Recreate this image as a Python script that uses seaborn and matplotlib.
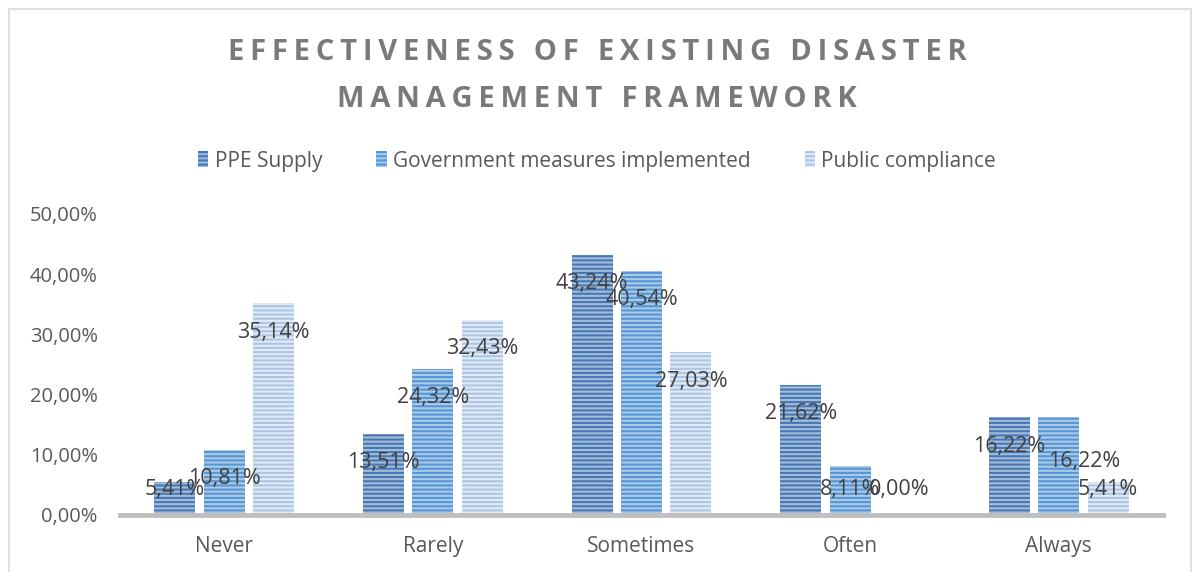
import matplotlib
matplotlib.use("Agg")
import matplotlib.pyplot as plt
from matplotlib.patches import Rectangle
import seaborn as sns
import pandas as pd

# Survey responses (% of respondents)
categories = ["Never", "Rarely", "Sometimes", "Often", "Always"]
series = ["PPE Supply", "Government measures implemented", "Public compliance"]
ppe_supply = [5.41, 13.51, 43.24, 21.62, 16.22]
gov_measures = [10.81, 24.32, 40.54, 8.11, 16.22]
public_compliance = [35.14, 32.43, 27.03, 0.00, 5.41]
y_ticks = [0, 10, 20, 30, 40, 50]

title_lines = ["EFFECTIVENESS OF EXISTING DISASTER", "MANAGEMENT FRAMEWORK"]

face_colors = ["#9dbbe0", "#a3cbef", "#e0eaf6"]
hatch_colors = ["#4678b6", "#5596d6", "#aac6e6"]

sns.set_theme(style="white")
plt.rcParams["font.family"] = ["Open Sans", "DejaVu Sans"]
plt.rcParams["hatch.linewidth"] = 1.5

df = pd.DataFrame({
    "category": categories * 3,
    "series": [s for s in series for _ in categories],
    "value": ppe_supply + gov_measures + public_compliance,
})

fig = plt.figure(figsize=(11.94, 5.72), dpi=100)
ax = fig.add_axes([0.1005, 0.0997, 0.8735, 0.5263])

sns.barplot(data=df, x="category", y="value", hue="series", order=categories,
            hue_order=series, palette=face_colors, width=0.71, gap=0.17,
            errorbar=None, ax=ax, legend=False)

for container, hc in zip(ax.containers, hatch_colors):
    for bar in container:
        bar.set_hatch("----")
        bar.set_edgecolor(hc)
        bar.set_linewidth(0)

# value labels inside the bar tops, kept above the baseline
extra_offset = {(1, 4): (26, -15)}
for si, container in enumerate(ax.containers):
    for ci, bar in enumerate(container):
        v = bar.get_height()
        y = max(v - 4.8, 4.2)
        dx, dy = extra_offset.get((si, ci), (0, 0))
        ax.annotate(f"{v:.2f}%".replace(".", ","),
                    (bar.get_x() + bar.get_width() / 2, y),
                    xytext=(dx * 0.72, dy * 0.72), textcoords="offset points",
                    ha="center", va="center", fontsize=15.5, color="#404040")

ax.set_xlim(-0.5, 4.5)
ax.set_ylim(0, 50)
ax.set_yticks(y_ticks)
ax.set_yticklabels([f"{t:.2f}%".replace(".", ",") for t in y_ticks])
ax.set_xlabel("")
ax.set_ylabel("")
ax.tick_params(axis="y", length=0, pad=16, labelsize=14.5, labelcolor="#595959")
ax.tick_params(axis="x", length=0, pad=15, labelsize=15, labelcolor="#595959")
for side in ["top", "right", "left"]:
    ax.spines[side].set_visible(False)
ax.spines["bottom"].set_color("#bfbfbf")
ax.spines["bottom"].set_linewidth(3.5)
ax.grid(False)

# legend
handles = [Rectangle((0, 0), 1, 1, facecolor=fc, edgecolor=hc, linewidth=0, hatch="----")
           for fc, hc in zip(face_colors, hatch_colors)]
fig.legend(handles, series, loc="center", bbox_to_anchor=(0.5, 1 - 161 / 572), ncol=3,
           frameon=False, fontsize=15, labelcolor="#595959", handlelength=0.5,
           handleheight=0.8, handletextpad=0.3, columnspacing=2.6)

# spaced title
hair = "\u200a" * 2
for line, ypix in zip(title_lines, [53, 99]):
    spaced = hair.join(line)
    fig.text(0.5, 1 - ypix / 572, spaced, ha="center", va="center", fontsize=21,
             fontweight="bold", color="#7a7a7a")

# chart frame
fig.patches.append(Rectangle((9 / 1194, -0.05), 1182 / 1194, 1.05 - 9 / 572,
                             transform=fig.transFigure, fill=False,
                             edgecolor="#d9d9d9", linewidth=1.2))

fig.savefig("out.png", dpi=100)
